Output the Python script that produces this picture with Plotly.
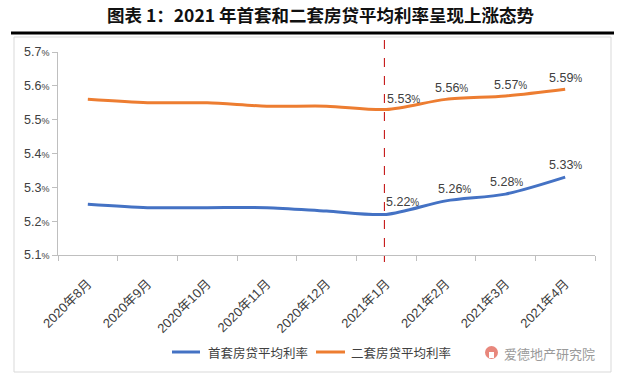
import plotly.graph_objects as go

months = ["2020年8月", "2020年9月", "2020年10月", "2020年11月", "2020年12月",
          "2021年1月", "2021年2月", "2021年3月", "2021年4月"]
first_home = [5.25, 5.24, 5.24, 5.24, 5.23, 5.22, 5.26, 5.28, 5.33]
second_home = [5.56, 5.55, 5.55, 5.54, 5.54, 5.53, 5.56, 5.57, 5.59]
y_ticks = [5.1, 5.2, 5.3, 5.4, 5.5, 5.6, 5.7]
series_names = ["首套房贷平均利率", "二套房贷平均利率"]
label_start = 5  # labels shown from 2021年1月

BLUE = "#4472C4"
ORANGE = "#ED7D31"
TXT = "#404040"
FONT = "Liberation Sans, Noto Sans CJK SC, sans-serif"

# plot area in pixels: x 58..595, y 52..255
L, R, T, B = 58, 595, 52, 255
W, H = R - L, B - T
def px(x): return (x - L) / W
def py(y): return 1 - (y - T) / H

fig = go.Figure()
fig.add_trace(go.Scatter(x=months, y=first_home, name=series_names[0], mode="lines", showlegend=False,
                         hoverinfo="skip",
                         line=dict(color=BLUE, width=3, shape="spline", smoothing=0.8)))
fig.add_trace(go.Scatter(x=months, y=second_home, name=series_names[1], mode="lines", showlegend=False,
                         hoverinfo="skip",
                         line=dict(color=ORANGE, width=3, shape="spline", smoothing=0.8)))

def pct(v):
    return f"{v:.2f}<span style='font-size:10px'>%</span>"

shifts_first = [16, 9, 1, 0]
shifts_second = [17, 6, 5, 0]
ann = []
for k, i in enumerate(range(label_start, len(months))):
    ann.append(dict(x=months[i], y=first_home[i], text=pct(first_home[i]), showarrow=False,
                    xshift=shifts_first[k], yshift=12, font=dict(size=12.5, color=TXT, family=FONT)))
    ann.append(dict(x=months[i], y=second_home[i], text=pct(second_home[i]), showarrow=False,
                    xshift=shifts_second[k], yshift=11, font=dict(size=12.5, color=TXT, family=FONT)))

# title
ann.append(dict(xref="paper", yref="paper", x=px(321), y=py(14), xanchor="center", yanchor="middle",
                text="<b>图表 1：2021 年首套和二套房贷平均利率呈现上涨态势</b>", showarrow=False,
                font=dict(size=17.5, color="#111111", family="Noto Sans CJK SC")))
# manual legend text
ann.append(dict(xref="paper", yref="paper", x=px(206), y=py(352), xanchor="left", yanchor="middle",
                text=series_names[0], showarrow=False,
                font=dict(size=12.5, color=TXT, family="Noto Sans CJK SC")))
ann.append(dict(xref="paper", yref="paper", x=px(349), y=py(352), xanchor="left", yanchor="middle",
                text=series_names[1], showarrow=False,
                font=dict(size=12.5, color=TXT, family="Noto Sans CJK SC")))
# watermark
ann.append(dict(xref="paper", yref="paper", x=px(502), y=py(353), xanchor="left", yanchor="middle",
                text="爱德地产研究院", showarrow=False,
                font=dict(size=13, color="#9a9a9a", family="Noto Sans CJK SC")))

shapes = [
    dict(type="line", xref="paper", yref="paper", x0=px(11), x1=px(614), y0=py(33), y1=py(33),
         line=dict(color="black", width=3)),
    dict(type="rect", xref="paper", yref="paper", x0=px(14), x1=px(611), y0=py(37), y1=py(372),
         line=dict(color="#d9d9d9", width=1), layer="below"),
    dict(type="line", xref="x", yref="paper", x0=label_start - 0.03, x1=label_start - 0.03,
         y0=py(40), y1=py(262), line=dict(color="#C00000", width=1, dash="dash")),
    # legend lines
    dict(type="line", xref="paper", yref="paper", x0=px(172), x1=px(200), y0=py(352), y1=py(352),
         line=dict(color=BLUE, width=3)),
    dict(type="line", xref="paper", yref="paper", x0=px(316), x1=px(345), y0=py(352), y1=py(352),
         line=dict(color=ORANGE, width=3)),
    # watermark icon
    dict(type="circle", xref="paper", yref="paper", x0=px(485), x1=px(498), y0=py(346), y1=py(359),
         fillcolor="#E8877C", line=dict(width=0)),
    dict(type="rect", xref="paper", yref="paper", x0=px(489), x1=px(494), y0=py(352), y1=py(358),
         fillcolor="white", line=dict(width=0)),
]

fig.update_layout(
    width=619, height=376,
    margin=dict(l=L, r=619 - R, t=T, b=376 - B, autoexpand=False),
    paper_bgcolor="white", plot_bgcolor="white",
    showlegend=False, hovermode=False,
    annotations=ann, shapes=shapes,
    font=dict(family=FONT, color=TXT),
)
fig.update_xaxes(type="category", showgrid=False, showline=True, linecolor="#bfbfbf", linewidth=1,
                 ticks="outside", tickson="boundaries", ticklen=5, tickcolor="#bfbfbf",
                 tickangle=-45, tickfont=dict(size=13, color=TXT, family=FONT),
                 ticklabelstandoff=15, automargin=False,
                 range=[-0.5, len(months) - 0.5])
fig.update_yaxes(range=[5.1, 5.7], tickvals=y_ticks,
                 ticktext=[f"{v:.1f}<span style='font-size:9px'>%</span>" for v in y_ticks],
                 showgrid=False, showline=True, linecolor="#bfbfbf", linewidth=1,
                 ticks="outside", ticklen=5, tickcolor="#bfbfbf", automargin=False,
                 tickfont=dict(size=12.5, color=TXT, family=FONT), zeroline=False)

fig.write_html("out.html", config={"displayModeBar": False},
               post_script="document.body.style.margin='0';document.body.style.overflow='hidden';")
